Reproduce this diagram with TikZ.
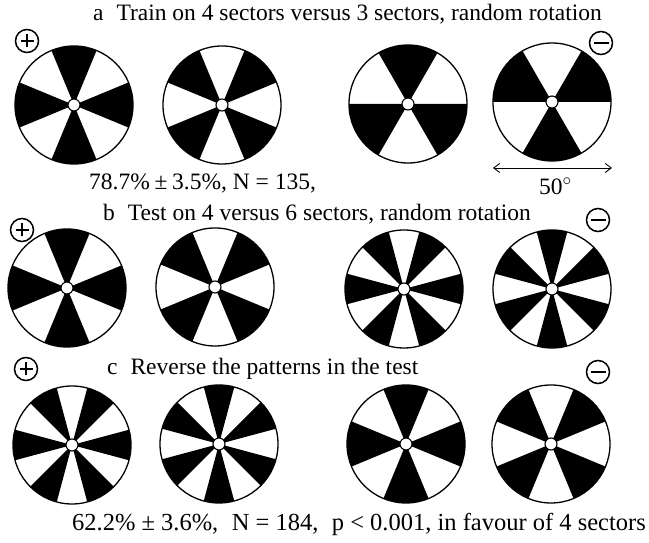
\documentclass[tikz,border=0pt]{standalone}
\usepackage{fontspec}
\setmainfont{Liberation Serif}
\usetikzlibrary{arrows.meta}
% #1 name, #2 x, #3 y, #4 number of black sectors, #5 angle of first black sector
\newcommand\wheeldisk[5]{%
  \coordinate (#1) at (#2,#3);
  \fill[white] (#1) circle[radius=59];
  \foreach \k in {1,...,#4}{%
    \pgfmathsetmacro\wmid{#5+360*(\k-1)/#4}%
    \pgfmathsetmacro\whw{90/#4}%
    \fill[black] (#1) -- ++(\wmid-\whw:59) arc[start angle=\wmid-\whw, end angle=\wmid+\whw, radius=59] -- cycle;
  }
  \draw[rim] (#1) circle[radius=59];
  \filldraw[hub] (#1) circle[radius=6];
}
\begin{document}
\begin{tikzpicture}[x=1pt,y=1pt,
  txt/.style={anchor=base west, inner sep=0pt, font=\fontsize{23.5}{26}\selectfont},
  rim/.style={line width=1.3pt},
  hub/.style={fill=white, draw=black, line width=1.1pt},
  sign/.style={circle, draw, line width=1.5pt, minimum size=23pt, inner sep=0pt},
  bar/.style={line width=2.8pt},
  dim/.style={line width=0.9pt, {Straight Barb[length=6pt,width=9pt]}-{Straight Barb[length=6pt,width=9pt]}}]
\useasboundingbox (0,0) rectangle (649,543);
\fill[white] (0,0) rectangle (649,543);

% row a
\wheeldisk{a1}{74}{438}{4}{0}
\wheeldisk{a2}{222}{438}{4}{45}
\wheeldisk{a3}{408}{439}{3}{90}
\wheeldisk{a4}{552}{441}{3}{30}
% row b
\wheeldisk{b1}{67}{255}{4}{0}
\wheeldisk{b2}{215}{256}{4}{45}
\wheeldisk{b3}{404}{254}{6}{0}
\wheeldisk{b4}{552}{254}{6}{30}
% row c
\wheeldisk{c1}{72}{98}{6}{0}
\wheeldisk{c2}{219}{99}{6}{30}
\wheeldisk{c3}{406}{99}{4}{0}
\wheeldisk{c4}{551}{99}{4}{45}

% signs
\node[sign] (pa) at (27,502) {};
\node[sign] (pb) at (22,313) {};
\node[sign] (pc) at (26,174) {};
\node[sign] (ma) at (601,500) {};
\node[sign] (mb) at (598,323) {};
\node[sign] (mc) at (598,171) {};
\foreach \s in {pa,pb,pc}{
  \draw[bar] ([xshift=-6.5pt]\s.center) -- ([xshift=6.5pt]\s.center);
  \draw[bar] ([yshift=-6.5pt]\s.center) -- ([yshift=6.5pt]\s.center);
}
\foreach \s in {ma,mb,mc}{
  \draw[bar] ([xshift=-7.5pt]\s.center) -- ([xshift=7.5pt]\s.center);
}

% texts
\node[txt] (ta) at (93,522) {a\hspace{0.55em}Train on 4 sectors versus 3 sectors, random rotation};
\node[txt] (r1) at (89,353) {78.7\%\hspace{0.2em}±\hspace{0.2em}3.5\%, N = 135,};
\node[txt] (tb) at (103,322) {b\hspace{0.55em}Test on 4 versus 6 sectors, random rotation};
\node[txt] (tc) at (107,168) {c\hspace{0.55em}Reverse the patterns in the test};
\node[txt, font=\fontsize{24.5}{27}\selectfont] (r2) at (72,12) {62.2\% ± 3.6\%,\hspace{0.55em}N = 184,\hspace{0.55em}p < 0.001, in favour of 4 sectors};

% 50 degree scale
\coordinate (dl) at (493,375);
\coordinate (dr) at (612,375);
\draw[dim] (dl) -- (dr);
\node[txt] (deg) at (539,348) {50$^{\circ}$};
\end{tikzpicture}
\end{document}
